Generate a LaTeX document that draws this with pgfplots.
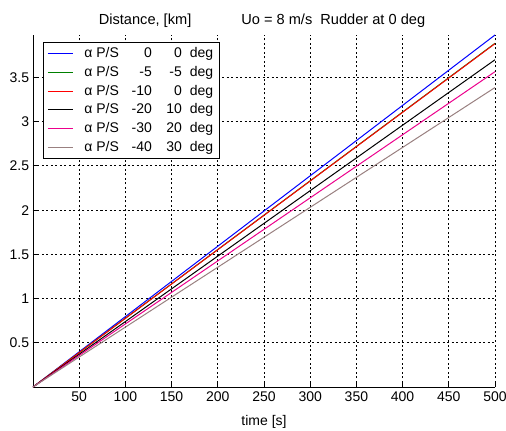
\documentclass[border=0pt]{standalone}
\usepackage{fontspec}
\setmainfont{Liberation Sans}
\usepackage{pgfplots}
\pgfplotsset{compat=1.18}
\definecolor{mgreen}{rgb}{0,0.5,0}
\definecolor{mgray}{rgb}{0.6,0.5,0.5}
\newcommand{\lgent}[2]{\hspace{9pt}α P/S\makebox[33pt][r]{#1}\makebox[30pt][r]{#2}\hspace{8pt}deg\hspace{6pt}}
\newcommand{\ff}{\fontsize{14}{16}\selectfont}
\begin{document}
\begin{tikzpicture}[x=1pt,y=1pt]
\ff
\begin{axis}[
  name=ax,
  at={(0,0)}, anchor=south west,
  scale only axis, width=462pt, height=352pt,
  xmin=0, xmax=500, ymin=0, ymax=3.98,
  xtick={50,100,...,500},
  ytick={0.5,1,...,3.5},
  yticklabels={0.5,1,1.5,2,2.5,3,3.5},
  axis x line*=bottom, axis y line*=left,
  axis line style={black, -, line width=0.8pt},
  tick align=inside, major tick length=4pt,
  tick style={black, line width=0.8pt},
  xmajorgrids, ymajorgrids,
  grid style={black, dash pattern=on 2pt off 2.5pt, line width=0.8pt},
  /pgf/number format/assume math mode=true,
  ticklabel style={font=\ff},
  yticklabel style={xshift=1pt},
  xlabel={time [s]},
  xlabel style={font=\ff, yshift=-4pt},
  title={Distance, [km]\hspace{50pt}Uo = 8 m/s\ \ Rudder at 0 deg},
  title style={font=\fontsize{14.6}{16}\selectfont, yshift=-3pt, xshift=-2pt},
  legend style={at={(axis description cs:0.0216,0.98)}, anchor=north west,
    draw=black, line width=0.8pt, fill=white, font=\ff, row sep=2.5pt,
    inner xsep=4pt, inner ysep=3pt},
  legend cell align=left,
  every axis plot/.append style={line width=1pt},
  legend image code/.code={\draw[#1, line width=1pt] (0pt,0pt) -- (25pt,0pt);},
]
\addplot[color=blue] coordinates {(0,0) (500,3.98)};
\addlegendentry{\lgent{0}{0}}
\addplot[color=mgreen] coordinates {(0,0) (500,3.886)};
\addlegendentry{\lgent{-5}{-5}}
\addplot[color=red] coordinates {(0,0) (500,3.882)};
\addlegendentry{\lgent{-10}{0}}
\addplot[color=black] coordinates {(0,0) (500,3.70)};
\addlegendentry{\lgent{-20}{10}}
\addplot[color=magenta] coordinates {(0,0) (500,3.565)};
\addlegendentry{\lgent{-30}{20}}
\addplot[color=mgray] coordinates {(0,0) (500,3.386)};
\addlegendentry{\lgent{-40}{30}}
\end{axis}
\pgfresetboundingbox
\path (-33pt,-44pt) rectangle (473pt,387pt);
\end{tikzpicture}
\end{document}
